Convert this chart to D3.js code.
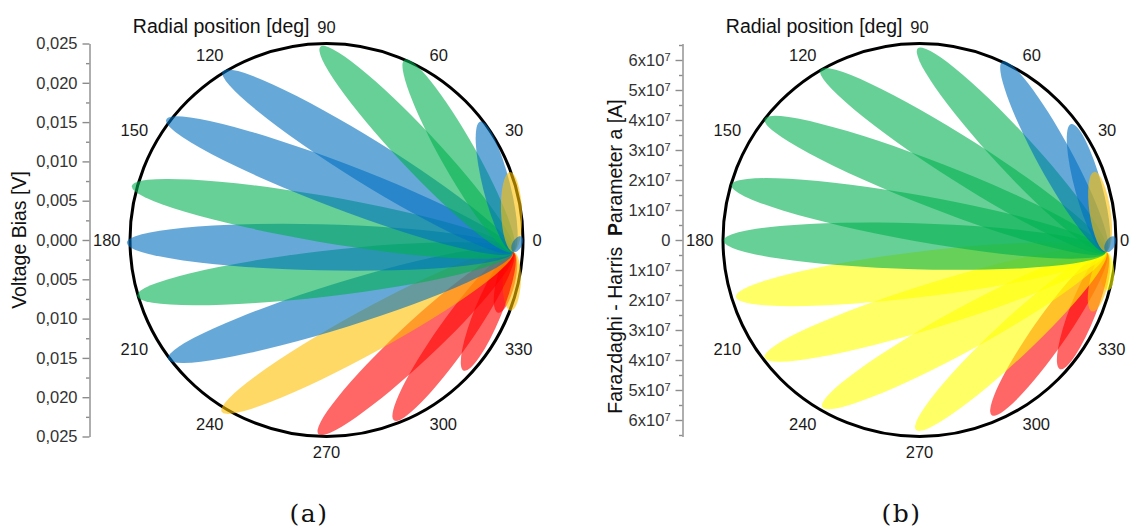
<!DOCTYPE html>
<html>
<head>
<meta charset="utf-8">
<script src="https://cdn.jsdelivr.net/npm/d3@7"></script>
<style>
  body { margin: 0; background: #fff; }
  text { font-family: "Liberation Sans", Arial, sans-serif; }
  text.caption { font-family: "DejaVu Serif", "Liberation Serif", serif; }
</style>
</head>
<body>
<svg id="fig" width="1130" height="532"></svg>
<script>
// ---- data -------------------------------------------------------------
// Angular grid labels (degrees)
const angleTicks = [0, 30, 60, 90, 120, 150, 180, 210, 240, 270, 300, 330];

// Panel (a): petal end positions (deg), reach (V) and colour class, in drawing order
const anglesA = [337, 339, 316.4, 290.5, 267.6, 238.6, 216.9, 196.4, 180.8, 164.5, 143.1, 121.6, 91.8, 66.6, 37.6, 20.3, 1];
const reachA  = [0.0237, 0.0251, 0.0241, 0.0245, 0.0247, 0.0256, 0.0252, 0.0251, 0.0254, 0.0257, 0.0255, 0.0252, 0.0246, 0.0250, 0.0247, 0.0249, 0.0248];
const classA  = [5, 3, 5, 5, 5, 3, 1, 2, 1, 2, 1, 1, 2, 2, 1, 3, 1];
const ticksA  = [-0.025, -0.02, -0.015, -0.01, -0.005, 0, 0.005, 0.01, 0.015, 0.02, 0.025];

// Panel (b): petal end positions (deg), reach (A) and colour class, in drawing order
const anglesB = [345, 317.4, 292.4, 337.5, 268.9, 239.8, 217.2, 197.2, 180.2, 163.7, 142, 120.2, 90.5, 65.1, 37.4, 21.3, 1];
const reachB  = [6.5e7, 6.36e7, 6.32e7, 6.23e7, 6.33e7, 6.44e7, 6.48e7, 6.41e7, 6.53e7, 6.53e7, 6.55e7, 6.56e7, 6.39e7, 6.56e7, 6.36e7, 6.25e7, 6.5e7];
const classB  = [4, 5, 5, 3, 4, 4, 4, 4, 2, 2, 2, 2, 2, 1, 1, 3, 1];
const ticksB  = [-6e7, -5e7, -4e7, -3e7, -2e7, -1e7, 0, 1e7, 2e7, 3e7, 4e7, 5e7, 6e7];

// ---- layout & style ---------------------------------------------------
const R = 196.5;                        // polar frame radius (px)
const hubAngle = -3.6, hubFrac = 0.951; // common origin of all petals
const colorOf = d3.scaleOrdinal()
  .domain([1, 2, 3, 4, 5])
  .range(["#0070C0", "#00B050", "#FFC000", "#FFFF00", "#FF0000"]);
const widthOf = d3.scaleSqrt().domain([0, 400]).range([0, 47]);
const angleRad = d3.scaleLinear().domain([0, 360]).range([0, 2 * Math.PI]);

const svg = d3.select("#fig");

const panels = [
  {
    cx: 326.5, cy: 240, rMax: 0.025,
    angles: anglesA, reach: reachA, cls: classA,
    ticks: ticksA,
    minor: d3.range(-0.0225, 0.025, 0.005),
    fmt: v => d3.format(".3f")(Math.abs(v)).replace(".", ","),
    sup: false,
    yTitle: [{ t: "Voltage Bias [V]" }],
    yTitleX: 26, yTitleY: 240,
    caption: "(a)", capX: 309
  },
  {
    cx: 919.5, cy: 240, rMax: 6.55e7,
    angles: anglesB, reach: reachB, cls: classB,
    ticks: ticksB,
    minor: d3.range(-6.5e7, 6.6e7, 1e7),
    fmt: v => v === 0 ? "0" : Math.round(Math.abs(v) / 1e7) + "x10",
    sup: true,
    yTitle: [{ t: "Farazdaghi - Harris  " }, { t: "P", bold: true }, { t: "arameter a [A]" }],
    yTitleX: 622, yTitleY: 256.5,
    caption: "(b)", capX: 901.5
  }
];

panels.forEach(drawPanel);

function drawPanel(p) {
  const g = svg.append("g");
  const rScale = d3.scaleLinear().domain([0, p.rMax]).range([0, R]);
  const pt = (deg, v) => [
    p.cx + rScale(v) * Math.cos(angleRad(deg)),
    p.cy - rScale(v) * Math.sin(angleRad(deg))
  ];

  // polar frame
  g.append("circle")
    .attr("cx", p.cx).attr("cy", p.cy).attr("r", R)
    .attr("fill", "none").attr("stroke", "#000").attr("stroke-width", 3);

  // petals: ellipses spanning from the hub to each end position
  const hub = pt(hubAngle, hubFrac * p.rMax);
  const petals = p.angles.map((a, i) => ({ angle: a, reach: p.reach[i], cls: p.cls[i] }));
  g.selectAll("ellipse.petal")
    .data(petals)
    .join("ellipse")
    .attr("class", "petal")
    .each(function (d) {
      const t = pt(d.angle, d.reach);
      const dx = t[0] - hub[0], dy = t[1] - hub[1];
      const L = Math.hypot(dx, dy);
      d3.select(this)
        .attr("rx", L / 2)
        .attr("ry", widthOf(L) / 2)
        .attr("transform",
          `translate(${(t[0] + hub[0]) / 2},${(t[1] + hub[1]) / 2}) rotate(${Math.atan2(dy, dx) * 180 / Math.PI})`);
    })
    .attr("fill", d => colorOf(d.cls))
    .attr("fill-opacity", 0.6);

  // angular labels
  const labelR = 206;
  angleTicks.forEach(a => {
    const c = Math.cos(angleRad(a)), s = Math.sin(angleRad(a));
    const x = Math.min(p.cx + labelR * c, 1120);
    const y = p.cy - labelR * s;
    const anchor = c > 0.1 ? "start" : (c < -0.1 ? "end" : "middle");
    const by = s > 0.1 ? y - 1 : (s < -0.1 ? y + 12 : y + 6);
    g.append("text")
      .attr("x", x).attr("y", by)
      .attr("text-anchor", anchor)
      .attr("font-size", 16.5).attr("fill", "#1a1a1a")
      .text(a);
  });

  // title
  g.append("text")
    .attr("x", p.cx - 17).attr("y", p.cy - labelR - 1)
    .attr("text-anchor", "end")
    .attr("font-size", 19.5).attr("fill", "#111")
    .text("Radial position [deg]");

  // linear axis along the diameter
  const axX = p.cx - 237;
  const y = d3.scaleLinear().domain([-p.rMax, p.rMax]).range([p.cy + R, p.cy - R]);
  const ax = g.append("g").attr("transform", `translate(${axX},0)`)
    .call(d3.axisLeft(y).tickValues(p.ticks).tickSize(7).tickPadding(5).tickSizeOuter(0).tickFormat(p.fmt));
  ax.select(".domain").attr("stroke", "#8c8c8c").attr("stroke-width", 1.4);
  ax.selectAll(".tick line").attr("stroke", "#8c8c8c").attr("stroke-width", 1.4);
  ax.selectAll(".tick text")
    .attr("font-size", 16.5).attr("fill", "#333");
  if (p.sup) {
    ax.selectAll(".tick text").filter(d => d !== 0)
      .append("tspan").attr("dy", "-0.45em").attr("font-size", 11).text("7");
  }
  const minor = g.append("g").attr("transform", `translate(${axX},0)`)
    .call(d3.axisLeft(y).tickValues(p.minor).tickSize(3.5).tickSizeOuter(0).tickFormat(""));
  minor.select(".domain").remove();
  minor.selectAll(".tick line").attr("stroke", "#8c8c8c").attr("stroke-width", 1.4);

  // axis title
  const yt = g.append("text")
    .attr("transform", `translate(${p.yTitleX},${p.yTitleY}) rotate(-90)`)
    .attr("text-anchor", "middle")
    .attr("font-size", 19.5).attr("fill", "#111")
    .attr("xml:space", "preserve")
    .style("white-space", "pre");
  p.yTitle.forEach(part => {
    yt.append("tspan").attr("font-weight", part.bold ? "bold" : "normal").text(part.t);
  });

  // caption
  svg.append("text")
    .attr("class", "caption")
    .attr("x", p.capX).attr("y", 522)
    .attr("text-anchor", "middle")
    .attr("font-size", 25).attr("letter-spacing", 1.5).attr("fill", "#111")
    .text(p.caption);
}
</script>
</body>
</html>
